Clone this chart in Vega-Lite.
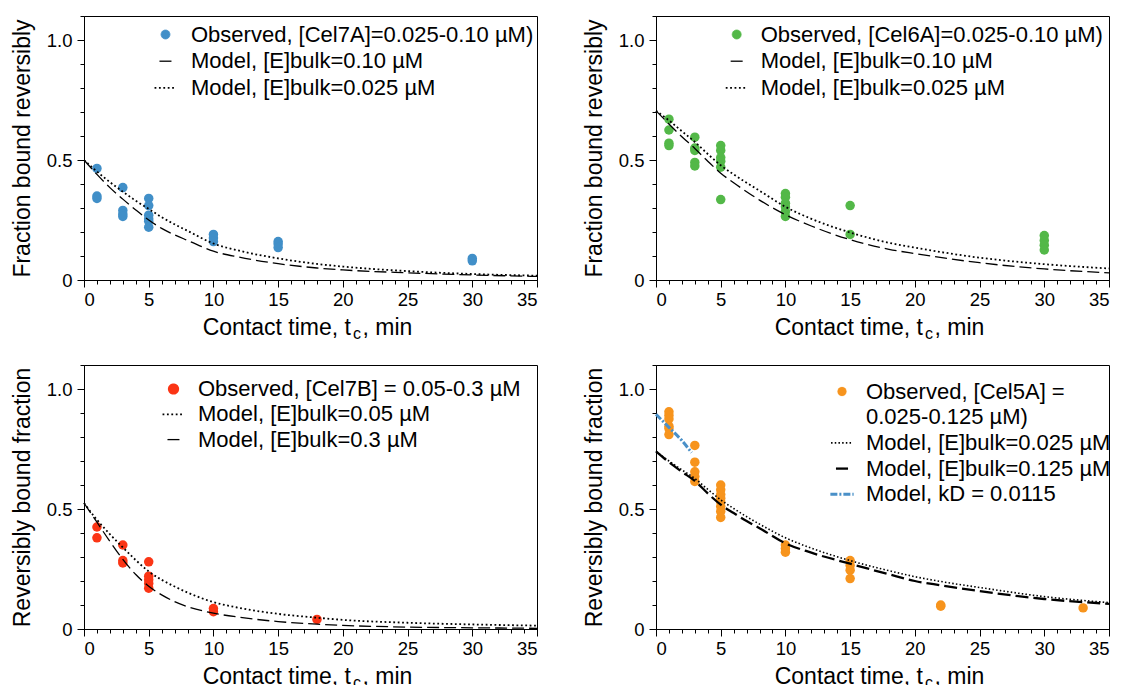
{
  "$schema": "https://vega.github.io/schema/vega-lite/v6.json",
  "padding": {"left": 10, "top": 15, "right": 0, "bottom": 0},
  "columns": 2,
  "spacing": {"row": 85, "column": 119},
  "bounds": "flush",
  "resolve": {"scale": {"color": "independent", "x": "independent", "y": "independent", "shape": "independent", "strokeDash": "independent", "strokeWidth": "independent"}, "legend": {"color": "independent", "shape": "independent", "strokeDash": "independent", "strokeWidth": "independent"}},
  "config": {
    "font": "Liberation Sans",
    "view": {"stroke": "black", "strokeWidth": 1},
    "axis": {"domainColor": "black", "tickColor": "black", "labelColor": "black", "titleColor": "black", "titleFontWeight": "normal", "grid": false, "labelFontSize": 18.5, "titleFontSize": 23, "tickWidth": 1, "domainWidth": 1},
    "legend": {"labelFontSize": 22, "labelColor": "black", "padding": 0, "symbolSize": 80, "labelLimit": 0}
  },
  "concat": [
    {
      "width": 453, "height": 264,
      "data": {"values": [
        {"k":"obs","t":1,"f":0.465},{"k":"obs","t":1,"f":0.35},{"k":"obs","t":1,"f":0.34},
        {"k":"obs","t":3,"f":0.385},{"k":"obs","t":3,"f":0.29},{"k":"obs","t":3,"f":0.275},{"k":"obs","t":3,"f":0.265},
        {"k":"obs","t":5,"f":0.34},{"k":"obs","t":5,"f":0.31},{"k":"obs","t":5,"f":0.27},{"k":"obs","t":5,"f":0.255},{"k":"obs","t":5,"f":0.245},{"k":"obs","t":5,"f":0.22},
        {"k":"obs","t":10,"f":0.19},{"k":"obs","t":10,"f":0.175},{"k":"obs","t":10,"f":0.16},
        {"k":"obs","t":15,"f":0.16},{"k":"obs","t":15,"f":0.15},{"k":"obs","t":15,"f":0.135},
        {"k":"obs","t":30,"f":0.09},{"k":"obs","t":30,"f":0.08},
        {"k":"m1","t":0,"f":0.5},{"k":"m1","t":1,"f":0.44},{"k":"m1","t":2,"f":0.385},{"k":"m1","t":3,"f":0.337},{"k":"m1","t":4,"f":0.292},{"k":"m1","t":5,"f":0.25},{"k":"m1","t":6,"f":0.215},{"k":"m1","t":7,"f":0.188},{"k":"m1","t":8,"f":0.165},{"k":"m1","t":10,"f":0.12},{"k":"m1","t":12,"f":0.095},{"k":"m1","t":15,"f":0.068},{"k":"m1","t":18,"f":0.05},{"k":"m1","t":20,"f":0.042},{"k":"m1","t":25,"f":0.03},{"k":"m1","t":30,"f":0.021},{"k":"m1","t":35,"f":0.015},
        {"k":"m2","t":0,"f":0.5},{"k":"m2","t":1,"f":0.452},{"k":"m2","t":2,"f":0.408},{"k":"m2","t":3,"f":0.368},{"k":"m2","t":4,"f":0.33},{"k":"m2","t":5,"f":0.296},{"k":"m2","t":6,"f":0.262},{"k":"m2","t":7,"f":0.232},{"k":"m2","t":8,"f":0.205},{"k":"m2","t":10,"f":0.152},{"k":"m2","t":12,"f":0.122},{"k":"m2","t":15,"f":0.09},{"k":"m2","t":18,"f":0.067},{"k":"m2","t":20,"f":0.056},{"k":"m2","t":25,"f":0.037},{"k":"m2","t":30,"f":0.025},{"k":"m2","t":35,"f":0.018}
      ]},
      "layer": [
        {
          "transform": [{"filter": "datum.k === 'obs'"}],
          "mark": {"type": "point", "filled": true, "size": 90, "opacity": 1},
          "encoding": {
            "x": {"field": "t", "type": "quantitative", "scale": {"domain": [0, 35], "nice": false}, "axis": {"values": [0,5,10,15,20,25,30,35], "tickSize": 7, "labelPadding": 3, "title": "Contact time, t\u2002, min", "titleX": 223, "titleY": 54, "titleBaseline": "alphabetic", "titleAlign": "center"}},
            "y": {"field": "f", "type": "quantitative", "scale": {"domain": [0, 1.1], "nice": false}, "axis": {"values": [0, 0.5, 1], "labelExpr": "datum.value === 0 ? '0' : format(datum.value, '.1f')", "tickSize": 7, "labelPadding": 5, "title": "Fraction bound reversibly", "titlePadding": 12}},
            "color": {"field": "k", "type": "nominal", "scale": {"domain": ["obs", "m1", "m2"], "range": ["#418fc8", "black", "black"]},
              "legend": {"orient": "none", "legendX": 70.5, "legendY": 7.5, "title": null, "rowPadding": 4.7, "labelOffset": 14.5,
                "labelExpr": "datum.value === 'obs' ? 'Observed, [Cel7A]=0.025-0.10 µM)' : datum.value === 'm1' ? 'Model, [E]bulk=0.10 µM' : 'Model, [E]bulk=0.025 µM'"}},
            "shape": {"field": "k", "type": "nominal", "scale": {"domain": ["obs", "m1", "m2"], "range": ["circle", "M-1.35,0H1.35", "M-2.45,0H2.45"]}}
          }
        },
        {
          "transform": [{"filter": "datum.k === 'm1'"}],
          "mark": {"type": "line", "interpolate": "monotone"},
          "encoding": {
            "x": {"field": "t", "type": "quantitative", "axis": {"orient": "bottom", "values": [0,1,2,3,4,5,6,7,8,9,10,11,12,13,14,15,16,17,18,19,20,21,22,23,24,25,26,27,28,29,30,31,32,33,34,35], "tickSize": 4, "labels": false, "domain": false, "title": "c", "titleFontSize": 16, "titleX": 272.5, "titleY": 58, "titleBaseline": "alphabetic", "titleAlign": "center"}},
            "y": {"field": "f", "type": "quantitative", "axis": {"orient": "left", "values": [0,0.1,0.2,0.3,0.4,0.5,0.6,0.7,0.8,0.9,1,1.1], "tickSize": 4, "labels": false, "domain": false, "title": null}},
            "color": {"field": "k", "type": "nominal"},
            "strokeDash": {"field": "k", "type": "nominal", "scale": {"domain": ["obs", "m1", "m2"], "range": [[1, 0], [12, 5], [1.8, 2.6]]}},
            "strokeWidth": {"field": "k", "type": "ordinal", "scale": {"type": "point", "domain": ["obs", "m1", "m2"], "range": [0.8, 1.8], "padding": 0}}
          }
        },
        {
          "transform": [{"filter": "datum.k === 'm2'"}],
          "mark": {"type": "line", "interpolate": "monotone"},
          "encoding": {
            "x": {"field": "t", "type": "quantitative", "axis": null},
            "y": {"field": "f", "type": "quantitative", "axis": null},
            "color": {"field": "k", "type": "nominal"},
            "strokeDash": {"field": "k", "type": "nominal"},
            "strokeWidth": {"field": "k", "type": "ordinal"}
          }
        }
      ],
      "resolve": {"axis": {"x": "independent", "y": "independent"}}
    },
    {
      "width": 453, "height": 264,
      "data": {"values": [
        {"k":"obs","t":1,"f":0.67},{"k":"obs","t":1,"f":0.625},{"k":"obs","t":1,"f":0.57},{"k":"obs","t":1,"f":0.56},
        {"k":"obs","t":3,"f":0.595},{"k":"obs","t":3,"f":0.55},{"k":"obs","t":3,"f":0.54},{"k":"obs","t":3,"f":0.49},{"k":"obs","t":3,"f":0.475},
        {"k":"obs","t":5,"f":0.56},{"k":"obs","t":5,"f":0.54},{"k":"obs","t":5,"f":0.51},{"k":"obs","t":5,"f":0.495},{"k":"obs","t":5,"f":0.47},{"k":"obs","t":5,"f":0.335},
        {"k":"obs","t":10,"f":0.36},{"k":"obs","t":10,"f":0.345},{"k":"obs","t":10,"f":0.32},{"k":"obs","t":10,"f":0.305},{"k":"obs","t":10,"f":0.285},{"k":"obs","t":10,"f":0.265},
        {"k":"obs","t":15,"f":0.31},{"k":"obs","t":15,"f":0.19},
        {"k":"obs","t":30,"f":0.185},{"k":"obs","t":30,"f":0.165},{"k":"obs","t":30,"f":0.145},{"k":"obs","t":30,"f":0.125},
        {"k":"m1","t":0,"f":0.705},{"k":"m1","t":1,"f":0.65},{"k":"m1","t":2,"f":0.597},{"k":"m1","t":3,"f":0.548},{"k":"m1","t":4,"f":0.495},{"k":"m1","t":5,"f":0.445},{"k":"m1","t":6,"f":0.405},{"k":"m1","t":7,"f":0.368},{"k":"m1","t":8,"f":0.333},{"k":"m1","t":10,"f":0.272},{"k":"m1","t":12,"f":0.225},{"k":"m1","t":15,"f":0.168},{"k":"m1","t":18,"f":0.128},{"k":"m1","t":20,"f":0.11},{"k":"m1","t":25,"f":0.072},{"k":"m1","t":30,"f":0.046},{"k":"m1","t":35,"f":0.03},
        {"k":"m2","t":0,"f":0.705},{"k":"m2","t":1,"f":0.665},{"k":"m2","t":2,"f":0.62},{"k":"m2","t":3,"f":0.575},{"k":"m2","t":4,"f":0.525},{"k":"m2","t":5,"f":0.478},{"k":"m2","t":6,"f":0.44},{"k":"m2","t":7,"f":0.405},{"k":"m2","t":8,"f":0.372},{"k":"m2","t":10,"f":0.305},{"k":"m2","t":12,"f":0.255},{"k":"m2","t":15,"f":0.198},{"k":"m2","t":18,"f":0.155},{"k":"m2","t":20,"f":0.135},{"k":"m2","t":25,"f":0.093},{"k":"m2","t":30,"f":0.066},{"k":"m2","t":35,"f":0.048}
      ]},
      "layer": [
        {
          "transform": [{"filter": "datum.k === 'obs'"}],
          "mark": {"type": "point", "filled": true, "size": 90, "opacity": 1},
          "encoding": {
            "x": {"field": "t", "type": "quantitative", "scale": {"domain": [0, 35], "nice": false}, "axis": {"values": [0,5,10,15,20,25,30,35], "tickSize": 7, "labelPadding": 3, "title": "Contact time, t\u2002, min", "titleX": 223, "titleY": 54, "titleBaseline": "alphabetic", "titleAlign": "center"}},
            "y": {"field": "f", "type": "quantitative", "scale": {"domain": [0, 1.1], "nice": false}, "axis": {"values": [0, 0.5, 1], "labelExpr": "datum.value === 0 ? '0' : format(datum.value, '.1f')", "tickSize": 7, "labelPadding": 5, "title": "Fraction bound reversibly", "titlePadding": 12}},
            "color": {"field": "k", "type": "nominal", "scale": {"domain": ["obs", "m1", "m2"], "range": ["#53b848", "black", "black"]},
              "legend": {"orient": "none", "legendX": 69.7, "legendY": 7.5, "title": null, "rowPadding": 4.7, "labelOffset": 13,
                "labelExpr": "datum.value === 'obs' ? 'Observed, [Cel6A]=0.025-0.10 µM)' : datum.value === 'm1' ? 'Model, [E]bulk=0.10 µM' : 'Model, [E]bulk=0.025 µM'"}},
            "shape": {"field": "k", "type": "nominal", "scale": {"domain": ["obs", "m1", "m2"], "range": ["circle", "M-1.35,0H1.35", "M-2.45,0H2.45"]}}
          }
        },
        {
          "transform": [{"filter": "datum.k === 'm1'"}],
          "mark": {"type": "line", "interpolate": "monotone"},
          "encoding": {
            "x": {"field": "t", "type": "quantitative", "axis": {"orient": "bottom", "values": [0,1,2,3,4,5,6,7,8,9,10,11,12,13,14,15,16,17,18,19,20,21,22,23,24,25,26,27,28,29,30,31,32,33,34,35], "tickSize": 4, "labels": false, "domain": false, "title": "c", "titleFontSize": 16, "titleX": 272.5, "titleY": 58, "titleBaseline": "alphabetic", "titleAlign": "center"}},
            "y": {"field": "f", "type": "quantitative", "axis": {"orient": "left", "values": [0,0.1,0.2,0.3,0.4,0.5,0.6,0.7,0.8,0.9,1,1.1], "tickSize": 4, "labels": false, "domain": false, "title": null}},
            "color": {"field": "k", "type": "nominal"},
            "strokeDash": {"field": "k", "type": "nominal", "scale": {"domain": ["obs", "m1", "m2"], "range": [[1, 0], [12, 5], [1.8, 2.6]]}},
            "strokeWidth": {"field": "k", "type": "ordinal", "scale": {"type": "point", "domain": ["obs", "m1", "m2"], "range": [0.8, 1.8], "padding": 0}}
          }
        },
        {
          "transform": [{"filter": "datum.k === 'm2'"}],
          "mark": {"type": "line", "interpolate": "monotone"},
          "encoding": {
            "x": {"field": "t", "type": "quantitative", "axis": null},
            "y": {"field": "f", "type": "quantitative", "axis": null},
            "color": {"field": "k", "type": "nominal"},
            "strokeDash": {"field": "k", "type": "nominal"},
            "strokeWidth": {"field": "k", "type": "ordinal"}
          }
        }
      ],
      "resolve": {"axis": {"x": "independent", "y": "independent"}}
    },
    {
      "width": 453, "height": 264,
      "data": {"values": [
        {"k":"obs","t":1,"f":0.425},{"k":"obs","t":1,"f":0.38},
        {"k":"obs","t":3,"f":0.35},{"k":"obs","t":3,"f":0.285},{"k":"obs","t":3,"f":0.275},
        {"k":"obs","t":5,"f":0.28},{"k":"obs","t":5,"f":0.22},{"k":"obs","t":5,"f":0.205},{"k":"obs","t":5,"f":0.19},{"k":"obs","t":5,"f":0.17},
        {"k":"obs","t":10,"f":0.085},{"k":"obs","t":10,"f":0.072},
        {"k":"obs","t":18,"f":0.04},
        {"k":"m1","t":0,"f":0.525},{"k":"m1","t":1,"f":0.455},{"k":"m1","t":2,"f":0.395},{"k":"m1","t":3,"f":0.34},{"k":"m1","t":4,"f":0.287},{"k":"m1","t":5,"f":0.24},{"k":"m1","t":6,"f":0.205},{"k":"m1","t":7,"f":0.177},{"k":"m1","t":8,"f":0.152},{"k":"m1","t":10,"f":0.112},{"k":"m1","t":12,"f":0.088},{"k":"m1","t":15,"f":0.063},{"k":"m1","t":18,"f":0.047},{"k":"m1","t":20,"f":0.038},{"k":"m1","t":25,"f":0.026},{"k":"m1","t":30,"f":0.019},{"k":"m1","t":35,"f":0.014},
        {"k":"m2","t":0,"f":0.525},{"k":"m2","t":1,"f":0.445},{"k":"m2","t":2,"f":0.365},{"k":"m2","t":3,"f":0.29},{"k":"m2","t":4,"f":0.227},{"k":"m2","t":5,"f":0.178},{"k":"m2","t":6,"f":0.142},{"k":"m2","t":7,"f":0.114},{"k":"m2","t":8,"f":0.093},{"k":"m2","t":10,"f":0.066},{"k":"m2","t":12,"f":0.049},{"k":"m2","t":15,"f":0.031},{"k":"m2","t":18,"f":0.02},{"k":"m2","t":20,"f":0.015},{"k":"m2","t":25,"f":0.008},{"k":"m2","t":30,"f":0.005},{"k":"m2","t":35,"f":0.003}
      ]},
      "layer": [
        {
          "transform": [{"filter": "datum.k === 'obs'"}],
          "mark": {"type": "point", "filled": true, "size": 90, "opacity": 1},
          "encoding": {
            "x": {"field": "t", "type": "quantitative", "scale": {"domain": [0, 35], "nice": false}, "axis": {"values": [0,5,10,15,20,25,30,35], "tickSize": 7, "labelPadding": 3, "title": "Contact time, t\u2002, min", "titleX": 223, "titleY": 54, "titleBaseline": "alphabetic", "titleAlign": "center"}},
            "y": {"field": "f", "type": "quantitative", "scale": {"domain": [0, 1.1], "nice": false}, "axis": {"values": [0, 0.5, 1], "labelExpr": "datum.value === 0 ? '0' : format(datum.value, '.1f')", "tickSize": 7, "labelPadding": 5, "title": "Reversibly bound fraction", "titlePadding": 12}},
            "color": {"field": "k", "type": "nominal", "scale": {"domain": ["obs", "m1", "m2"], "range": ["#fb3515", "black", "black"]},
              "legend": {"orient": "none", "legendX": 78.5, "legendY": 13, "title": null, "rowPadding": 3.3, "labelOffset": 13.5,
                "labelExpr": "datum.value === 'obs' ? 'Observed, [Cel7B] = 0.05-0.3 µM' : datum.value === 'm1' ? 'Model, [E]bulk=0.05 µM' : 'Model, [E]bulk=0.3 µM'"}},
            "shape": {"field": "k", "type": "nominal", "scale": {"domain": ["obs", "m1", "m2"], "range": ["circle", "M-2.45,0H2.45", "M-1.35,0H1.35"]}}
          }
        },
        {
          "transform": [{"filter": "datum.k === 'm2'"}],
          "mark": {"type": "line", "interpolate": "monotone"},
          "encoding": {
            "x": {"field": "t", "type": "quantitative", "axis": {"orient": "bottom", "values": [0,1,2,3,4,5,6,7,8,9,10,11,12,13,14,15,16,17,18,19,20,21,22,23,24,25,26,27,28,29,30,31,32,33,34,35], "tickSize": 4, "labels": false, "domain": false, "title": "c", "titleFontSize": 16, "titleX": 272.5, "titleY": 58, "titleBaseline": "alphabetic", "titleAlign": "center"}},
            "y": {"field": "f", "type": "quantitative", "axis": {"orient": "left", "values": [0,0.1,0.2,0.3,0.4,0.5,0.6,0.7,0.8,0.9,1,1.1], "tickSize": 4, "labels": false, "domain": false, "title": null}},
            "color": {"field": "k", "type": "nominal"},
            "strokeDash": {"field": "k", "type": "nominal", "scale": {"domain": ["obs", "m1", "m2"], "range": [[1, 0], [1.8, 2.6], [12, 5]]}},
            "strokeWidth": {"field": "k", "type": "ordinal", "scale": {"type": "point", "domain": ["obs", "m1", "m2"], "range": [2.3, 1.3], "padding": 0}}
          }
        },
        {
          "transform": [{"filter": "datum.k === 'm1'"}],
          "mark": {"type": "line", "interpolate": "monotone"},
          "encoding": {
            "x": {"field": "t", "type": "quantitative", "axis": null},
            "y": {"field": "f", "type": "quantitative", "axis": null},
            "color": {"field": "k", "type": "nominal"},
            "strokeDash": {"field": "k", "type": "nominal"},
            "strokeWidth": {"field": "k", "type": "ordinal"}
          }
        }
      ],
      "resolve": {"axis": {"x": "independent", "y": "independent"}}
    },
    {
      "width": 453, "height": 264,
      "data": {"values": [
        {"k":"obs","t":1,"f":0.905},{"k":"obs","t":1,"f":0.89},{"k":"obs","t":1,"f":0.875},{"k":"obs","t":1,"f":0.845},{"k":"obs","t":1,"f":0.835},{"k":"obs","t":1,"f":0.81},
        {"k":"obs","t":3,"f":0.765},{"k":"obs","t":3,"f":0.695},{"k":"obs","t":3,"f":0.655},{"k":"obs","t":3,"f":0.635},{"k":"obs","t":3,"f":0.615},
        {"k":"obs","t":5,"f":0.6},{"k":"obs","t":5,"f":0.58},{"k":"obs","t":5,"f":0.56},{"k":"obs","t":5,"f":0.545},{"k":"obs","t":5,"f":0.53},{"k":"obs","t":5,"f":0.51},{"k":"obs","t":5,"f":0.49},{"k":"obs","t":5,"f":0.465},
        {"k":"obs","t":10,"f":0.35},{"k":"obs","t":10,"f":0.335},{"k":"obs","t":10,"f":0.32},
        {"k":"obs","t":15,"f":0.285},{"k":"obs","t":15,"f":0.265},{"k":"obs","t":15,"f":0.245},{"k":"obs","t":15,"f":0.21},
        {"k":"obs","t":22,"f":0.1},{"k":"obs","t":22,"f":0.095},
        {"k":"obs","t":33,"f":0.088},
        {"k":"m1","t":0,"f":0.74},{"k":"m1","t":1,"f":0.7},{"k":"m1","t":2,"f":0.663},{"k":"m1","t":3,"f":0.627},{"k":"m1","t":4,"f":0.582},{"k":"m1","t":5,"f":0.538},{"k":"m1","t":6,"f":0.502},{"k":"m1","t":7,"f":0.468},{"k":"m1","t":8,"f":0.437},{"k":"m1","t":10,"f":0.38},{"k":"m1","t":12,"f":0.337},{"k":"m1","t":15,"f":0.285},{"k":"m1","t":18,"f":0.243},{"k":"m1","t":20,"f":0.218},{"k":"m1","t":22,"f":0.198},{"k":"m1","t":25,"f":0.173},{"k":"m1","t":30,"f":0.135},{"k":"m1","t":35,"f":0.11},
        {"k":"m2","t":0,"f":0.74},{"k":"m2","t":1,"f":0.695},{"k":"m2","t":2,"f":0.655},{"k":"m2","t":3,"f":0.617},{"k":"m2","t":4,"f":0.565},{"k":"m2","t":5,"f":0.518},{"k":"m2","t":6,"f":0.483},{"k":"m2","t":7,"f":0.45},{"k":"m2","t":8,"f":0.42},{"k":"m2","t":10,"f":0.357},{"k":"m2","t":12,"f":0.318},{"k":"m2","t":15,"f":0.272},{"k":"m2","t":18,"f":0.228},{"k":"m2","t":20,"f":0.2},{"k":"m2","t":22,"f":0.182},{"k":"m2","t":25,"f":0.158},{"k":"m2","t":30,"f":0.125},{"k":"m2","t":35,"f":0.105},
        {"k":"m3","t":0,"f":0.895},{"k":"m3","t":1,"f":0.84},{"k":"m3","t":2,"f":0.785},{"k":"m3","t":2.75,"f":0.735}
      ]},
      "layer": [
        {
          "transform": [{"filter": "datum.k === 'obs'"}],
          "mark": {"type": "point", "filled": true, "size": 90, "opacity": 1},
          "encoding": {
            "x": {"field": "t", "type": "quantitative", "scale": {"domain": [0, 35], "nice": false}, "axis": {"values": [0,5,10,15,20,25,30,35], "tickSize": 7, "labelPadding": 3, "title": "Contact time, t\u2002, min", "titleX": 223, "titleY": 54, "titleBaseline": "alphabetic", "titleAlign": "center"}},
            "y": {"field": "f", "type": "quantitative", "scale": {"domain": [0, 1.1], "nice": false}, "axis": {"values": [0, 0.5, 1], "labelExpr": "datum.value === 0 ? '0' : format(datum.value, '.1f')", "tickSize": 7, "labelPadding": 5, "title": "Reversibly bound fraction", "titlePadding": 12}},
            "color": {"field": "k", "type": "nominal", "scale": {"domain": ["obs", "obs2", "m1", "m2", "m3"], "range": ["#f7941d", "white", "black", "black", "#4a90c8"]},
              "legend": {"orient": "none", "legendX": 175, "legendY": 15.5, "title": null, "rowPadding": 3.7, "labelOffset": 13,
                "labelExpr": "datum.value === 'obs' ? 'Observed, [Cel5A] =' : datum.value === 'obs2' ? '0.025-0.125 µM)' : datum.value === 'm1' ? 'Model, [E]bulk=0.025 µM' : datum.value === 'm2' ? 'Model, [E]bulk=0.125 µM' : 'Model, kD = 0.0115'"}},
            "shape": {"field": "k", "type": "nominal", "scale": {"domain": ["obs", "obs2", "m1", "m2", "m3"], "range": ["circle", "circle", "M-2.45,0H2.45", "M-1.35,0H1.35", "M-2.6,0H2.6"]}}
          }
        },
        {
          "transform": [{"filter": "datum.k === 'm1'"}],
          "mark": {"type": "line", "interpolate": "monotone"},
          "encoding": {
            "x": {"field": "t", "type": "quantitative", "axis": {"orient": "bottom", "values": [0,1,2,3,4,5,6,7,8,9,10,11,12,13,14,15,16,17,18,19,20,21,22,23,24,25,26,27,28,29,30,31,32,33,34,35], "tickSize": 4, "labels": false, "domain": false, "title": "c", "titleFontSize": 16, "titleX": 272.5, "titleY": 58, "titleBaseline": "alphabetic", "titleAlign": "center"}},
            "y": {"field": "f", "type": "quantitative", "axis": {"orient": "left", "values": [0,0.1,0.2,0.3,0.4,0.5,0.6,0.7,0.8,0.9,1,1.1], "tickSize": 4, "labels": false, "domain": false, "title": null}},
            "color": {"field": "k", "type": "nominal"},
            "strokeDash": {"field": "k", "type": "nominal", "scale": {"domain": ["obs", "obs2", "m1", "m2", "m3"], "range": [[1, 0], [1, 0], [1.5, 2.2], [13, 5], [7, 2, 2, 2]]}},
            "strokeWidth": {"field": "k", "type": "ordinal", "scale": {"type": "point", "domain": ["obs", "obs2", "m1", "m2", "m3"], "range": [0.2, 3.0], "padding": 0}}
          }
        },
        {
          "transform": [{"filter": "datum.k === 'm2'"}],
          "mark": {"type": "line", "interpolate": "monotone"},
          "encoding": {
            "x": {"field": "t", "type": "quantitative", "axis": null},
            "y": {"field": "f", "type": "quantitative", "axis": null},
            "color": {"field": "k", "type": "nominal"},
            "strokeDash": {"field": "k", "type": "nominal"},
            "strokeWidth": {"field": "k", "type": "ordinal"}
          }
        },
        {
          "transform": [{"filter": "datum.k === 'm3'"}],
          "mark": {"type": "line", "interpolate": "monotone"},
          "encoding": {
            "x": {"field": "t", "type": "quantitative", "axis": null},
            "y": {"field": "f", "type": "quantitative", "axis": null},
            "color": {"field": "k", "type": "nominal"},
            "strokeDash": {"field": "k", "type": "nominal"},
            "strokeWidth": {"field": "k", "type": "ordinal"}
          }
        }
      ],
      "resolve": {"axis": {"x": "independent", "y": "independent"}}
    }
  ]
}
